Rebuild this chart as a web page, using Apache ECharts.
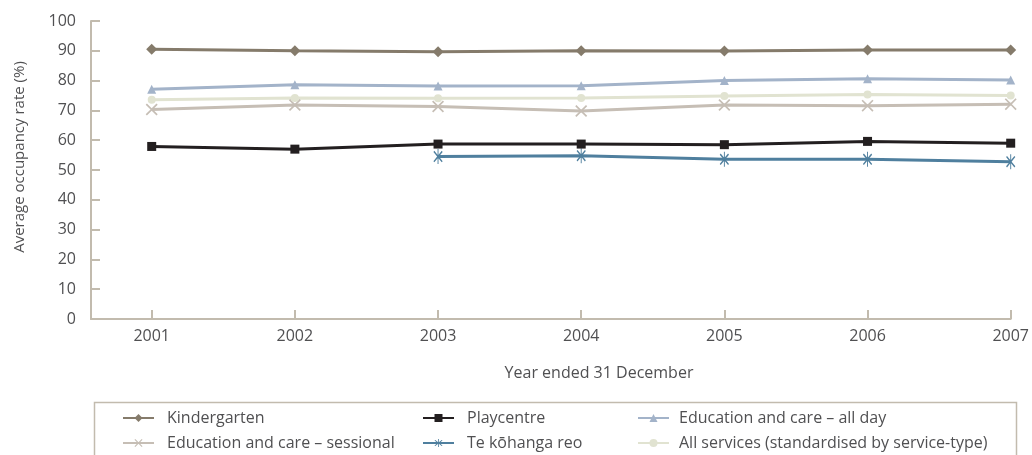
<!DOCTYPE html>
<html>
<head>
<meta charset="utf-8">
<script src="https://cdn.jsdelivr.net/npm/echarts@6/dist/echarts.min.js"></script>
<style>
html,body{margin:0;padding:0;background:#fff;}
#chart{width:1032px;height:455px;}
</style>
</head>
<body>
<div id="chart"></div>
<script>
const years = [2001, 2002, 2003, 2004, 2005, 2006, 2007];
const yTicks = [0, 10, 20, 30, 40, 50, 60, 70, 80, 90, 100];
const kindergarten = [90.5, 90.0, 89.7, 90.0, 89.9, 90.3, 90.3];
const playcentre = [57.9, 57.0, 58.7, 58.7, 58.5, 59.6, 59.0];
const allDay = [77.1, 78.6, 78.2, 78.3, 80.0, 80.6, 80.2];
const sessional = [70.3, 71.8, 71.3, 69.8, 71.8, 71.6, 72.1];
const kohanga = [null, null, 54.5, 54.8, 53.6, 53.6, 52.8];
const allServices = [73.6, 74.2, 74.1, 74.2, 74.8, 75.3, 75.0];

const names = {
  kindergarten: 'Kindergarten',
  playcentre: 'Playcentre',
  allDay: 'Education and care – all day',
  sessional: 'Education and care – sessional',
  kohanga: 'Te kōhanga reo',
  allServices: 'All services (standardised by service-type)'
};

const FONT = '"Open Sans", "Noto Sans", sans-serif';
const TXT = '#505052';
const AXIS = '#c2bbae';

const crossPath = 'path://M2,0 L10,8 L18,0 L20,2 L12,10 L20,18 L18,20 L10,12 L2,20 L0,18 L8,10 L0,2 Z';
const starPath = 'path://M2,3 L10,11 L18,3 L20,5 L12,13 L20,21 L18,23 L10,15 L2,23 L0,21 L8,13 L0,5 Z M9,0 L11,0 L11,26 L9,26 Z';

function pairs(vals) {
  return years.map((y, i) => [y, vals[i]]);
}

function mk(name, vals, color, symbol, size) {
  return {
    name: name,
    type: 'line',
    data: pairs(vals),
    symbol: symbol,
    symbolSize: size,
    symbolKeepAspect: true,
    showAllSymbol: true,
    connectNulls: false,
    lineStyle: { color: color, width: 3 },
    itemStyle: { color: color },
    emphasis: { disabled: true },
    animation: false
  };
}

const chart = echarts.init(document.getElementById('chart'), null, { renderer: 'canvas' });

function legendAt(left, top, name, pad) {
  return {
    orient: 'horizontal',
    left: left,
    top: top,
    padding: 0,
    itemWidth: 31,
    itemHeight: 10,
    textStyle: { fontFamily: FONT, fontSize: 16, color: TXT, padding: [0, 0, 0, pad] },
    selectedMode: false,
    data: [name]
  };
}

chart.setOption({
  backgroundColor: '#ffffff',
  animation: false,
  grid: { left: 91, right: 17, top: 21, bottom: 136, containLabel: false },
  xAxis: {
    type: 'value',
    min: 2000.576,
    max: 2007,
    axisLine: { show: true, lineStyle: { color: AXIS, width: 2 } },
    axisTick: { show: true, inside: true, length: 9, customValues: years, lineStyle: { color: AXIS, width: 2 } },
    axisLabel: { customValues: years, margin: 9, fontFamily: FONT, fontSize: 16, color: TXT, formatter: v => String(Math.round(v)) },
    splitLine: { show: false }
  },
  yAxis: {
    type: 'value',
    min: 0,
    max: 100,
    axisLine: { show: true, lineStyle: { color: AXIS, width: 2 } },
    axisTick: { show: true, inside: true, length: 9, customValues: yTicks, lineStyle: { color: AXIS, width: 2 } },
    axisLabel: { customValues: yTicks, margin: 15, fontFamily: FONT, fontSize: 16, color: TXT },
    splitLine: { show: false }
  },
  legend: [
    legendAt(122, 410, names.kindergarten, 8),
    legendAt(122, 435, names.sessional, 8),
    legendAt(422, 410, names.playcentre, 8),
    legendAt(422, 435, names.kohanga, 8),
    legendAt(637, 410, names.allDay, 5),
    legendAt(637, 435, names.allServices, 5)
  ],
  graphic: [
    {
      type: 'rect',
      left: 92, top: 400,
      shape: { width: 922, height: 80 },
      style: { fill: 'none', stroke: AXIS, lineWidth: 1.5 },
      z: -1
    },
    {
      type: 'text',
      x: 20, y: 157,
      rotation: Math.PI / 2,
      style: { text: 'Average occupancy rate (%)', font: '15px ' + FONT, fill: TXT, align: 'center', verticalAlign: 'middle' }
    },
    {
      type: 'text',
      x: 599, y: 373,
      style: { text: 'Year ended 31 December', font: '16px ' + FONT, fill: TXT, align: 'center', verticalAlign: 'middle' }
    }
  ],
  series: [
    mk(names.sessional, sessional, '#c6beb5', crossPath, 12),
    mk(names.allServices, allServices, '#e1e3d1', 'circle', 8),
    mk(names.allDay, allDay, '#a3b3c9', 'triangle', 9),
    mk(names.kohanga, kohanga, '#4f7f9e', starPath, [12, 15]),
    mk(names.playcentre, playcentre, '#231f20', 'rect', 9),
    mk(names.kindergarten, kindergarten, '#857b6b', 'diamond', 11)
  ]
});
</script>
</body>
</html>
